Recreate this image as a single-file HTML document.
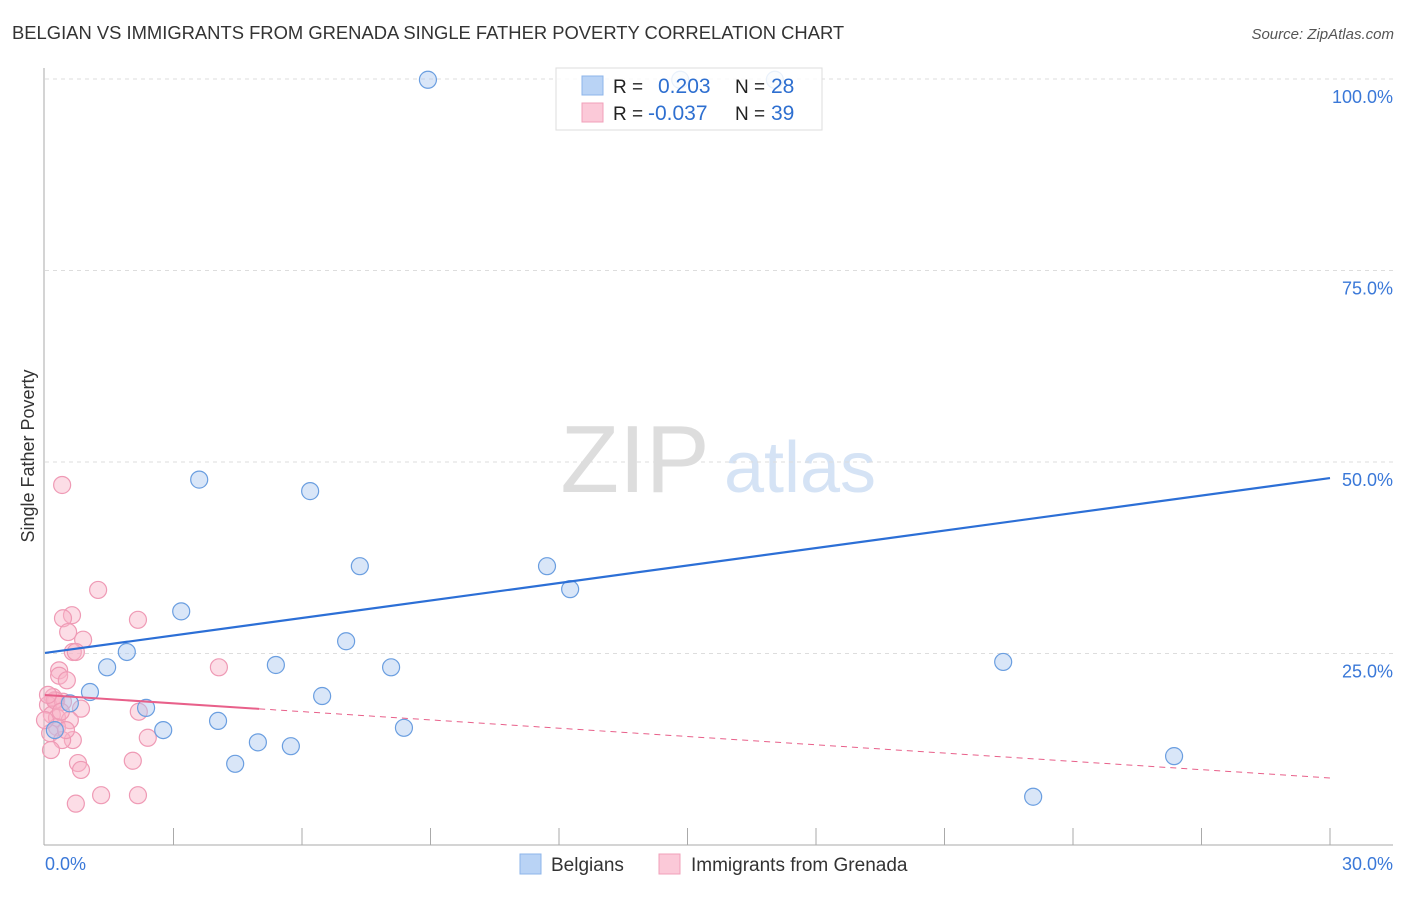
<!DOCTYPE html>
<html><head><meta charset="utf-8"><style>
body{margin:0;background:#fff;font-family:"Liberation Sans",sans-serif}
svg text{font-family:"Liberation Sans",sans-serif}
</style></head><body>
<svg id="c" width="1406" height="892">
<text x="12" y="39" font-size="18.4" fill="#333">BELGIAN VS IMMIGRANTS FROM GRENADA SINGLE FATHER POVERTY CORRELATION CHART</text>
<text x="1394" y="39" font-size="15" fill="#555" font-style="italic" text-anchor="end">Source: ZipAtlas.com</text>
<text x="635" y="492" font-size="96" fill="#ddd" font-family="Liberation Serif" text-anchor="middle">ZIP</text>
<text x="800" y="492" font-size="72" fill="#d5e3f5" text-anchor="middle">atlas</text>
<text transform="translate(34,456) rotate(-90)" font-size="18" fill="#333" text-anchor="middle">Single Father Poverty</text>
<g id="grid"></g><g id="pts"></g><g id="lines"></g>
<g>
<rect x="556" y="68" width="266" height="62" fill="rgba(255,255,255,0.85)" stroke="#ddd"/>
<rect x="582" y="76" width="21" height="19" fill="#b9d3f5" stroke="#8db5ea"/>
<rect x="582" y="103" width="21" height="19" fill="#fbc9d8" stroke="#f0a0ba"/>
<text x="613" y="93" font-size="19" fill="#222">R = </text><text x="658" y="93" font-size="21" fill="#2e6fd0">0.203</text>
<text x="735" y="93" font-size="19" fill="#222">N = </text><text x="771" y="93" font-size="21" fill="#2e6fd0">28</text>
<text x="613" y="120" font-size="19" fill="#222">R = </text><text x="648" y="120" font-size="21" fill="#2e6fd0">-0.037</text>
<text x="735" y="120" font-size="19" fill="#222">N = </text><text x="771" y="120" font-size="21" fill="#2e6fd0">39</text>
</g>
<g>
<rect x="520" y="854" width="21" height="20" fill="#b9d3f5" stroke="#8db5ea"/>
<text x="551" y="871" font-size="19" fill="#333">Belgians</text>
<rect x="659" y="854" width="21" height="20" fill="#fbc9d8" stroke="#f0a0ba"/>
<text x="691" y="871" font-size="19" fill="#333">Immigrants from Grenada</text>
</g>
</svg>
<script>
const xTickLabels=["0.0%","30.0%"];
const yTicks=[25,50,75,100];
const blueX=[8.94,14.83,17.04,3.60,6.19,7.35,11.72,12.26,3.18,7.03,1.91,5.39,1.45,8.08,22.37,1.05,6.47,0.58,2.36,4.04,2.76,8.38,4.97,5.74,4.44,26.36,23.07,0.23];
const blueY=[99.9,99.9,99.9,47.7,46.2,36.4,36.4,33.4,30.5,26.6,25.2,23.5,23.2,23.2,23.9,19.97,19.45,18.5,17.9,16.2,15.0,15.3,13.4,12.9,10.6,11.6,6.3,15.0];
const pinkX=[0.40,1.24,0.63,0.42,2.17,0.54,0.89,0.65,0.72,4.06,0.33,0.33,0.51,0.19,0.26,0.07,0.42,0.84,2.19,0.16,0.28,0.58,0.28,0.12,2.40,0.65,0.40,0.14,0.77,0.84,2.05,1.31,2.17,0.72,0.23,0.07,0.37,0.49,0];
const pinkY=[47.0,33.3,30.0,29.6,29.4,27.8,26.8,25.2,25.2,23.2,22.8,22.1,21.5,19.3,18.8,18.3,18.7,17.8,17.4,17.0,16.6,16.3,15.4,14.6,14.0,13.7,13.7,12.4,10.7,9.8,11.0,6.5,6.5,5.4,18.9,19.6,17.4,15.0,16.3];
const blueLine=[25.07,47.9];
const pinkLine=[19.58,8.75];
const pinkSolidEnd=5.0;
const NS="http://www.w3.org/2000/svg";
const sx=v=>45+v/30*1285, sy=v=>845-v*7.66;
function el(t,a,p){const e=document.createElementNS(NS,t);for(const k in a)e.setAttribute(k,a[k]);document.getElementById(p).appendChild(e);return e;}
let e;
yTicks.forEach(t=>{
 e=el("line",{x1:45,x2:1393,y1:sy(t),y2:sy(t),stroke:"#ddd","stroke-dasharray":"4,4"},"grid");
 
 
 e=el("text",{x:1393,y:sy(t)+24,"font-size":18,fill:"#3a78d8","text-anchor":"end"},"grid");e.textContent=t.toFixed(1)+"%";
 
 
});
e=el("line",{x1:44,x2:44,y1:68,y2:845,stroke:"#aaa"},"grid");


e=el("line",{x1:44,x2:1393,y1:845,y2:845,stroke:"#aaa"},"grid");


for(let i=1;i<=10;i++){e=el("line",{x1:sx(i*3),x2:sx(i*3),y1:828,y2:845,stroke:"#aaa"},"grid");
 
 }
e=el("text",{x:45,y:870,"font-size":18,fill:"#3a78d8"},"grid");e.textContent=xTickLabels[0];


e=el("text",{x:1393,y:870,"font-size":18,fill:"#3a78d8","text-anchor":"end"},"grid");e.textContent=xTickLabels[1];


pinkX.forEach((x,i)=>{e=el("circle",{cx:sx(x),cy:sy(pinkY[i]),r:8.5,fill:"rgba(248,180,200,0.45)",stroke:"#ef9ab5","stroke-width":1.2},"pts");
 
 });
blueX.forEach((x,i)=>{e=el("circle",{cx:sx(x),cy:sy(blueY[i]),r:8.5,fill:"rgba(170,200,240,0.45)",stroke:"#6a9ee0","stroke-width":1.2},"pts");
 
 });
e=el("line",{x1:sx(0),y1:sy(blueLine[0]),x2:sx(30),y2:sy(blueLine[1]),stroke:"#2c6fd6","stroke-width":2.2},"lines");


const py=x=>pinkLine[0]+(pinkLine[1]-pinkLine[0])*x/30;
e=el("line",{x1:sx(0),y1:sy(pinkLine[0]),x2:sx(pinkSolidEnd),y2:sy(py(pinkSolidEnd)),stroke:"#e8608a","stroke-width":2},"lines");


e=el("line",{x1:sx(pinkSolidEnd),y1:sy(py(pinkSolidEnd)),x2:sx(30),y2:sy(pinkLine[1]),stroke:"#e8608a","stroke-width":1,"stroke-dasharray":"6,5"},"lines");


</script>
</body></html>
